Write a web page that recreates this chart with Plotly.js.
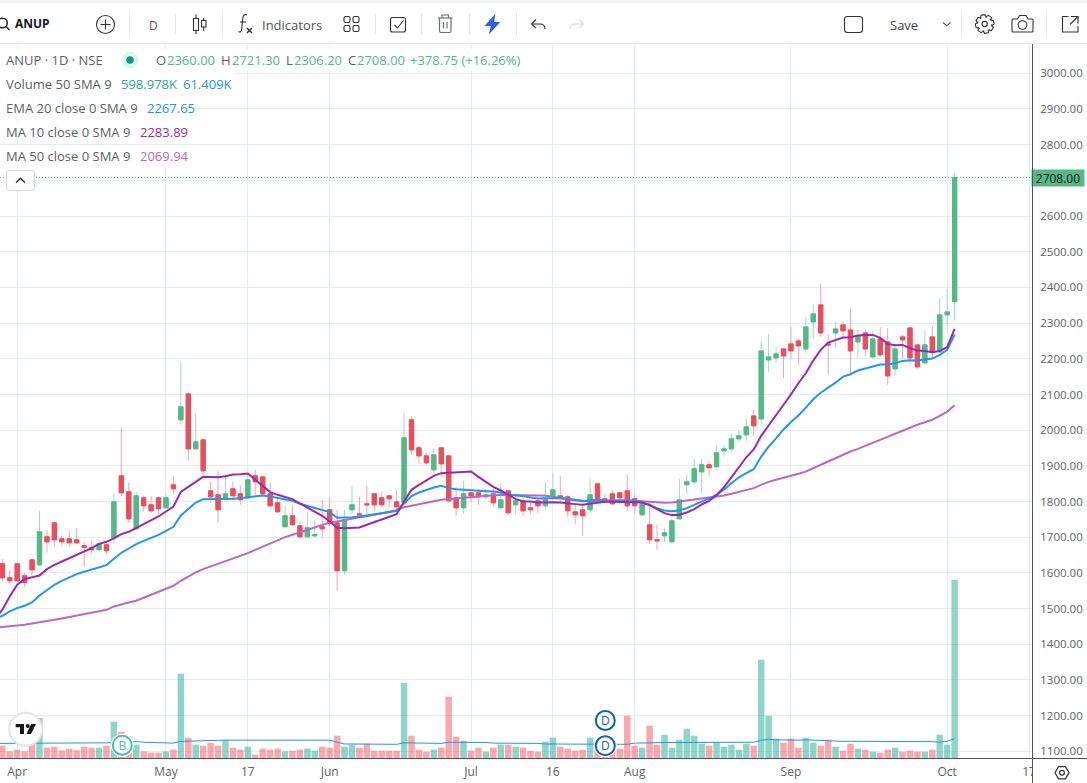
<!DOCTYPE html>
<html>
<head>
<meta charset="utf-8">
<script src="https://cdn.plot.ly/plotly-3.0.1.min.js"></script>
<style>
html,body{margin:0;padding:0;background:#fff;overflow:hidden}
#wrap{position:relative;width:1087px;height:783px}
#chart{position:absolute;left:0;top:0;width:1087px;height:783px}
#chrome{position:absolute;left:0;top:0;pointer-events:none}
</style>
</head>
<body>
<div id="wrap">
<div id="chart"></div>
<svg id="chrome" width="1087" height="783" viewBox="0 0 1087 783" font-family="Open Sans">
  <rect x="0" y="0" width="1087" height="3" fill="#f3f4f6"/>
  <line x1="0" y1="43.5" x2="1087" y2="43.5" stroke="#e4e7ee"/>
  <g stroke="#e4e7ee" stroke-width="1">
    <line x1="129.5" y1="13" x2="129.5" y2="35"/><line x1="175.5" y1="13" x2="175.5" y2="35"/>
    <line x1="222.5" y1="13" x2="222.5" y2="35"/><line x1="375.5" y1="13" x2="375.5" y2="35"/>
    <line x1="421.5" y1="13" x2="421.5" y2="35"/><line x1="469.5" y1="13" x2="469.5" y2="35"/>
    <line x1="516.5" y1="13" x2="516.5" y2="35"/><line x1="961.5" y1="13" x2="961.5" y2="35"/>
    <line x1="1046.5" y1="13" x2="1046.5" y2="35"/>
  </g>
  <!-- search -->
  <g fill="none" stroke="#222" stroke-width="1.5"><circle cx="2.5" cy="23" r="4.8"/><line x1="6" y1="26.5" x2="9.5" y2="30"/></g>
  <!-- plus -->
  <g fill="none" stroke="#333" stroke-width="1.1"><circle cx="105.5" cy="24.5" r="9"/><line x1="100.5" y1="24.5" x2="110.5" y2="24.5"/><line x1="105.5" y1="19.5" x2="105.5" y2="29.5"/></g>
  <!-- candles icon -->
  <g fill="none" stroke="#333" stroke-width="1.1">
    <rect x="193.5" y="18.5" width="5" height="12"/><line x1="196" y1="14.5" x2="196" y2="18.5"/><line x1="196" y1="30.5" x2="196" y2="34"/>
    <rect x="201.5" y="20.5" width="4.5" height="6.5"/><line x1="203.7" y1="18" x2="203.7" y2="20.5"/><line x1="203.7" y1="27" x2="203.7" y2="31"/>
  </g>
  <!-- fx -->
  <g fill="none" stroke="#333" stroke-width="1.1">
    <path d="M247 15 C244 13.5 243 16 242.7 19 L241.7 29 C241.4 32 240 32.5 238.5 31.5"/><line x1="240" y1="22" x2="246" y2="22"/>
    <g stroke-width="1.5"><line x1="247" y1="28" x2="252" y2="33"/><line x1="252" y1="28" x2="247" y2="33"/></g>
  </g>
  <!-- layout grid -->
  <g fill="none" stroke="#333" stroke-width="1.1">
    <rect x="344" y="16.5" width="6" height="6" rx="1.6"/><rect x="353" y="16.5" width="6" height="6" rx="1.6"/>
    <rect x="344" y="25.5" width="6" height="6" rx="1.6"/><rect x="353" y="25.5" width="6" height="6" rx="1.6"/>
  </g>
  <!-- checkbox -->
  <g fill="none" stroke="#333" stroke-width="1.1"><rect x="390.5" y="17.5" width="15" height="14.5" rx="2"/><path d="M394.5 25 L397.5 28 L403.5 20.5"/></g>
  <!-- trash -->
  <g fill="none" stroke="#6b6f78" stroke-width="1.2"><line x1="438" y1="18" x2="452.5" y2="18"/><path d="M442 18 V15 H448.5 V18"/><path d="M439.5 18 V31 Q439.5 32.5 441 32.5 H449.5 Q451 32.5 451 31 V18"/><line x1="443.5" y1="22" x2="443.5" y2="28.5"/><line x1="447" y1="22" x2="447" y2="28.5"/></g>
  <!-- bolt -->
  <defs><linearGradient id="bolt" x1="0" y1="0" x2="0" y2="1"><stop offset="0" stop-color="#1e6ff0"/><stop offset="1" stop-color="#3c4ff5"/></linearGradient></defs>
  <path d="M495.5 13.5 L484.5 26 L490.8 26 L488.8 34.5 L500.3 22 L494 22 Z" fill="url(#bolt)"/>
  <!-- undo / redo -->
  <g fill="none" stroke="#333" stroke-width="1.1"><path d="M536 19.5 L531.5 24 L536 28"/><path d="M532 24 H540 C543.5 24 545 26.5 545 29"/></g>
  <g fill="none" stroke="#d8dae0" stroke-width="1.1"><path d="M579 19.5 L583.5 24 L579 28"/><path d="M583 24 H575 C571.5 24 570 26.5 570 29"/></g>
  <!-- rect -->
  <rect x="844.5" y="16.5" width="18" height="16" rx="3" fill="none" stroke="#333" stroke-width="1.1"/>
  <path d="M943 22.5 L946.8 25.8 L950.5 22.5" fill="none" stroke="#555" stroke-width="1.1"/>
  <!-- gear -->
  <g fill="none" stroke="#333" stroke-width="1.1"><path id="gear"/><circle cx="984.7" cy="24" r="2.6"/></g>
  <!-- camera -->
  <g fill="none" stroke="#333" stroke-width="1.1"><path d="M1013 19 H1017.5 L1019.5 15.5 H1026 L1028 19 H1032 Q1033 19 1033 20 V31 Q1033 32 1032 32 H1013 Q1012 32 1012 31 V20 Q1012 19 1013 19 Z"/><circle cx="1022.5" cy="25" r="4.3"/></g>
  <!-- popout -->
  <g fill="none" stroke="#333" stroke-width="1.1"><path d="M1068.5 16.5 H1062.5 V32 H1078 V26"/><path d="M1071 16.5 H1078 V23.5"/><line x1="1078" y1="16.5" x2="1070" y2="24.5"/></g>
  <!-- legend status -->
  <circle cx="130" cy="60" r="8.5" fill="#dff3ef"/><circle cx="130" cy="60" r="3.7" fill="#089981"/>
  <!-- collapse -->
  <rect x="6.5" y="170.5" width="28" height="20" rx="3" fill="#fff" stroke="#d6d8e0"/>
  <path d="M16 182.5 L20.5 178.5 L25 182.5" fill="none" stroke="#222" stroke-width="1.4"/>
  <!-- axes frame -->
  <rect x="1032.5" y="759" width="55" height="24" fill="#fff"/>
  <line x1="1032.5" y1="44" x2="1032.5" y2="783" stroke="#50535e"/>
  <line x1="0" y1="758.5" x2="1087" y2="758.5" stroke="#50535e"/>
  <g fill="none" stroke="#333" stroke-width="1.2"><path d="M1055 772.7 L1058.5 766.6 H1065.5 L1069 772.7 L1065.5 778.8 H1058.5 Z"/><circle cx="1062" cy="772.7" r="2.4"/></g>
  <!-- logo -->
  <circle cx="25.7" cy="729.3" r="16.5" fill="#fff" stroke="#e3e5ec" stroke-width="2"/>
  <g fill="#131722"><path d="M15.7 724 H24 V734 H20 V727.3 H15.7 Z"/><circle cx="27.7" cy="726" r="2"/><path d="M31 724 H36 L31 734 H26.5 Z"/></g>
  <!-- events -->
  <g font-size="12" text-anchor="middle">
    <circle cx="122.3" cy="745.3" r="11.5" fill="#fff"/><circle cx="122.3" cy="745.3" r="9.5" fill="#fff" stroke="#45bdbd" stroke-width="2"/>
    <text x="122.3" y="749.5" fill="#45bdbd">B</text>
    <circle cx="605.3" cy="720.5" r="11.5" fill="#fff"/><circle cx="605.3" cy="720.5" r="9.5" fill="#fff" stroke="#0c5fbe" stroke-width="2"/>
    <text x="605.3" y="724.7" fill="#0c5fbe">D</text>
    <circle cx="605.3" cy="745.7" r="11.5" fill="#fff"/><circle cx="605.3" cy="745.7" r="9.5" fill="#fff" stroke="#0c5fbe" stroke-width="2"/>
    <text x="605.3" y="749.9" fill="#0c5fbe">D</text>
  </g>
</svg>
</div>
<script>
// ----- data (bar index 0 .. 128) -----
var opens = [
1625.5,1586.3,1625.5,1591.9,1636.7,1622.7,1701.1,1740.3,1695.5,1695.5,
1692.7,1675.9,1671.2,1664.7,1678.7,1698.3,1872,1827.2,1723.5,1810.4,
1790.8,1810.4,1782.4,1846.8,2028.9,2101.7,1947.6,1972.8,1830,1818.8,
1810.4,1835.6,1821.6,1810.4,1872,1869.2,1821.6,1796.4,1729.2,1760,
1732,1701.1,1703.9,1729.2,1776.8,1740.3,1605.9,1776.8,1765.6,1793.6,
1821.6,1810.4,1816,1799.2,1796.4,2028.9,1950.5,1928,1888.8,1950.5,
1928,1810.4,1782.4,1824.4,1824.4,1813.2,1821.6,1782.4,1830,1790.8,
1802,1782.4,1802,1788,1816,1816,1813.2,1771.2,1776.8,1776.8,
1849.6,1807.6,1821.6,1824.4,1830,1807.6,1762.8,1734.8,1692.8,1704,
1687.2,1751.6,1846.8,1855.2,1883.2,1902.9,1897.3,1942.1,1947.7,1975.7,
1986.8,2040,2031.6,2196.9,2202.5,2227.7,2241.7,2250.1,2227.7,2303.3,
2351,2241.7,2272.5,2294.9,2280.9,2247.3,2272.5,2205.3,2255.7,2247.3,
2171.7,2261.3,2286.5,2238.9,2188.5,2261.3,2219.3,2323,2360];
var highs = [
1639.5,1608.7,1630,1599.3,1640,1773.9,1720.7,1741,1703.9,1717.9,
1726.3,1687.1,1692.7,1692.7,1690,1824.4,2009.3,1852.4,1827.2,1816,
1816,1812,1821.6,1872,2188.5,2102,2048.5,1973,1855.2,1886,
1877.6,1855.2,1844,1880.4,1888.8,1872,1855.2,1813,1790.8,1790.8,
1743.2,1771.2,1748.8,1804.8,1810.4,1776.8,1776.8,1844,1813.2,1844,
1822,1827.2,1816,1830,2048.5,2037.3,1956,1936.4,1950.5,1950.5,
1928,1841.2,1858,1824.4,1835.6,1835.6,1835.6,1849.6,1830,1821.6,
1810.4,1802,1810.4,1855.2,1880.4,1872,1818.8,1793.6,1790.8,1863.6,
1849.6,1821.6,1832.8,1824.4,1874.8,1821.6,1804.8,1802,1734.8,1726.4,
1751.6,1863.6,1874.8,1919.7,1919.7,1914.1,1956.1,1958.9,1989.7,2000,
2031.6,2057,2250,2269.7,2233.3,2228,2289.3,2255.7,2317.3,2351,
2409.8,2269.7,2303.3,2303.3,2339.8,2280.9,2280.9,2275.3,2289.3,2286.5,
2241.7,2266.9,2286.5,2239,2280.9,2292.1,2370.6,2395.8,2721.3];
var lows = [
1576,1570.4,1575,1559.2,1591.9,1620,1656.3,1673.1,1675.9,1673.1,
1681.5,1617.1,1654.4,1664,1653.5,1682.4,1816,1740.3,1722,1771.2,
1768.4,1762.8,1782,1821.6,2014.9,1914,1944.8,1874.8,1796.4,1740.3,
1804.8,1802,1790.8,1810,1818.8,1816,1782.4,1768.4,1729,1732,
1695.5,1701,1701.1,1698.3,1729.2,1549.9,1594.7,1765.6,1754.4,1762.8,
1774,1782.4,1782.4,1774,1796,1930.8,1905.6,1902.8,1877.6,1869.2,
1796.4,1760,1765.6,1799.2,1790.8,1804.8,1785.2,1782,1762.8,1765.6,
1760,1765.6,1768.4,1779.6,1810.4,1802,1757.2,1737.6,1704,1768.4,
1799.2,1793.6,1790.8,1790.8,1774,1765.6,1762,1681.6,1664.8,1687.2,
1681.6,1751,1821.6,1849.6,1821.6,1872,1897,1925.3,1942.1,1967.3,
1968,1984,2014.8,2163.3,2188.5,2146.5,2199.7,2182.9,2216.5,2255.7,
2261.3,2154.9,2230.5,2261.3,2152.1,2202.5,2208.1,2202.5,2205.3,2126.9,
2152.1,2199.7,2185.7,2171.7,2188,2202.5,2218,2289.3,2306.2];
var closes = [
1586.3,1577.9,1577.9,1573.2,1608.7,1715.1,1687,1692.7,1687,1684.3,
1684.3,1671.2,1664.7,1681.5,1661.9,1799.2,1824.4,1751.5,1816,1788,
1773.9,1779.6,1810.4,1835.6,2065.3,1947.6,1967.2,1886,1813.2,1776.8,
1821.6,1816,1804.8,1860.8,1855.2,1821.6,1788,1771.2,1760,1734.8,
1701.1,1726.3,1706.7,1723.6,1740.3,1605.9,1748.8,1790.8,1762.8,1790.8,
1790.8,1790.8,1807.6,1785.2,1978.5,1944.8,1928,1908.4,1930.8,1905.6,
1802,1782.4,1821.6,1816,1813.2,1818.8,1796.4,1804.8,1768.4,1802,
1774,1776.8,1788,1807.6,1832.8,1810.4,1774,1762.8,1760,1818.8,
1807.6,1799.2,1793.6,1810.4,1788,1788,1793.6,1692.8,1690,1712.4,
1746,1804.8,1855.2,1891.7,1902.9,1894.5,1936.5,1947.7,1975.7,1984,
2009.2,2012,2222.1,2205.3,2213.7,2208.1,2222.1,2236.1,2289.3,2325.8,
2272.5,2238.9,2283.7,2278.1,2222.1,2264.1,2227.7,2255.7,2210.9,2152.1,
2227.7,2252.9,2202.5,2177.3,2238.9,2219.3,2323,2331.4,2708];
var volumesK = [
41.4,22.4,28,22.4,47,134.4,34.7,38,25.8,31.4,
25.8,38,34.7,34.7,41.4,122,88.5,25,44.8,22.4,
17.9,17.9,22.4,28,283.3,68.3,44.8,41.4,51.5,41.4,
60.5,34.7,28,38,11.2,31.4,28,31.4,22.4,24.6,
28,31.4,24.6,38,34.7,75,38,44.8,34.7,48.2,
24.6,24.6,24.6,24.6,253,75,28,21.3,28,34.7,
206,71.7,58.2,24.6,34.7,21.3,34.7,44.8,44.8,38,
34.7,24.6,21.3,54.9,68.3,38,31.4,24.6,28,68.3,
28,15,22.4,31.4,142.2,41.4,34.7,108.6,44.8,78.4,
34.7,61.6,98.5,75,48.2,41.4,52.6,38,44.8,28,
48.2,41.4,330.3,142.2,64.9,51.5,64.9,34.7,68.3,51.5,
41.4,61.6,38,24.6,48.2,31.4,28,21.3,17.9,28,
34.7,21.3,24.6,21.3,21.3,28,78.4,44.8,598.978];
// Indicator lines start one bar earlier (index -1), running off the left edge.
var volumeSmaK = [49,
49,50,50,50,50,50,50,50,51,51,
51,51,51,51,51,52,53,53,55,53,
52,52,51,50,56,57,58,58,59,59,
60,60,60,60,60,60,60,60,60,60,
60,60,60,60,60,53,47,47,47,47,
46,46,46,46,51,51,50,50,49,49,
53,53,53,53,52,52,50,50,50,50,
50,50,49,47,47,46,46,45,45,45,
45,45,45,46,46,50,51,52,52,52,
52,52,53,53,53,53,53,53,53,53,
53,53,59.4,62.7,61,60,60,60,61,60,
57,57,56,56,56,56,56,56,56,56,
56,56,56,56,56,55,53,56,65];
var ema20 = [1471,
1479.8,1492,1501.3,1507.9,1517.2,1536.8,1552.7,1566.7,1577.9,1588.2,
1596.6,1603.1,1608.7,1615.2,1621.8,1639.5,1656.3,1668.4,1680.6,1689.9,
1697.4,1706.7,1717.9,1729.1,1760.9,1778.6,1797.3,1806.6,1806.6,1806.6,
1806.6,1807.6,1809.4,1812.2,1816,1816.9,1814.1,1810.4,1806.7,1802,
1793.6,1788,1783.3,1775.8,1770.2,1754.4,1754.4,1756.2,1758.1,1760.9,
1762.8,1766.5,1770.2,1774,1795.4,1815.1,1825.3,1832.8,1839.3,1844,
1837.5,1834.7,1832.8,1831.9,1831,1829.1,1828.1,1825.3,1819.7,1817.9,
1815.1,1811.3,1808.5,1809.5,1810.4,1809.5,1806.7,1803,1801.1,1803,
1804.8,1803,1803,1803,1803,1803,1797.4,1790.8,1781.5,1774.9,
1773.1,1774.9,1781.5,1789.9,1800.2,1808.6,1818.8,1832.8,1851,1868,
1879.5,1890.7,1926,1954,1977,2002,2023,2041,2063,2086.7,
2105,2119,2133,2150,2156.8,2167,2172.6,2180.1,2183.8,2183.8,
2187.6,2194.1,2196,2195,2196.9,2200.6,2210.9,2224.9,2267.65];
var ma10 = [1470,
1496.6,1534,1566.7,1582.5,1588,1592.8,1610.6,1622.7,1632,1641.4,
1651.6,1661.9,1669.4,1681.5,1687.1,1696.5,1708.6,1715.1,1725.4,1735.7,
1746,1758.1,1772.1,1786.1,1827.2,1842.1,1855.2,1869.2,1869.2,1868.2,
1871,1875.7,1876.7,1878.5,1860.8,1844,1826.3,1818.8,1812.3,1806.7,
1794.5,1783.3,1772.1,1760,1744.1,1726.4,1725.4,1726.4,1727.3,1734.8,
1742.2,1748.8,1757.2,1764.6,1800.1,1832.8,1846.8,1859,1872,1879.5,
1880.4,1880.4,1882.3,1884.2,1869.2,1854.3,1841.2,1830.9,1818.8,1806.7,
1801,1800.2,1797,1798.3,1798.3,1797.4,1794.5,1792.7,1790.8,1793.6,
1798.3,1799.2,1799.2,1799.2,1797.4,1799.2,1797.4,1789.9,1778.7,1767.5,
1761.9,1762.8,1769.3,1778.7,1791.7,1802,1817.9,1840.3,1867.4,1896,
1924,1946,1984,2013,2041,2072,2100,2131.5,2159.5,2195,
2225,2245.5,2252.9,2259.5,2260.4,2265.1,2266.9,2266.9,2258.5,2241.7,
2238,2238.9,2229.6,2223,2222.1,2218.4,2222.1,2232.4,2283.89];
var ma50 = [1446.5,
1448.1,1450,1451.8,1454.6,1458.4,1461.2,1464,1468.6,1472.4,1476.1,
1479.8,1483.6,1487.3,1492,1496.6,1506,1512.5,1517.2,1521.9,1529.3,
1538.7,1547.1,1555.5,1563.9,1577.9,1590,1601.2,1610.6,1618,1624.6,
1632,1638.6,1646,1655.4,1664.7,1674,1683.4,1691.8,1700.2,1706.8,
1713.3,1719.8,1727.3,1734.8,1741.3,1744.1,1748.8,1752.5,1756.2,1759,
1762.8,1767.4,1771.2,1775.8,1784.2,1788.9,1793.6,1797.3,1801,1804.8,
1806.7,1809.4,1811.3,1813.2,1816,1816.9,1817.9,1818.8,1818.8,1817.9,
1817.9,1817.9,1816.9,1816,1814.2,1810.4,1807.6,1804.8,1802,1800.2,
1800.2,1801.1,1803,1803,1802,1802,1801.1,1799.2,1797.4,1796.4,
1797.4,1800.2,1802,1804.8,1808.6,1811.4,1815.1,1817,1821.6,1826.3,
1831.9,1837.5,1846.8,1855.2,1860.8,1866.4,1870.2,1877.6,1884.2,1893.5,
1902.8,1913.1,1923.4,1931.8,1940.2,1947.7,1956.1,1965.4,1974.7,1982.2,
1989.7,1999,2008,2015,2022,2029,2040,2052,2069.94];
var tickPositions = [2,22,33,44,63,74,85,106,127,138];
var tickLabels = ['Apr','May','17','Jun','Jul','16','Aug','Sep','Oct','17'];
var priceTicks = [1100,1200,1300,1400,1500,1600,1700,1800,1900,2000,2100,2200,2300,2400,2500,2600,2700,2800,2900,3000];
var priceTickHiddenByTag = 2700;

// ----- styles -----
var GREEN='#53b987', RED='#eb4d5c', GREEN_W='#a3d9c0', RED_W='#f5a3ae', GRID='#e3edf3', TXT='#5d5f66', FONT='"Open Sans", sans-serif';
var PW=1032, PH=714.3;

var idx = closes.map(function(_,i){return i;});
var lineIdx = ma10.map(function(_,i){return i-1;});
var bodyHigh = closes.map(function(c,i){return Math.max(c,opens[i]);});
var bodyLow  = closes.map(function(c,i){return Math.min(c,opens[i]);});
var volColors = closes.map(function(c,i){return c>=opens[i]?'rgba(34,171,148,0.5)':'rgba(247,82,95,0.5)';});

var traces = [
 {type:'bar',x:idx,y:volumesK,yaxis:'y2',width:0.87,marker:{color:volColors,line:{width:0}},hoverinfo:'skip',name:'Volume'},
 {type:'scatter',mode:'lines',x:lineIdx,y:volumeSmaK,yaxis:'y2',line:{color:'#2196f3',width:1},hoverinfo:'skip',name:'Volume SMA'},
 {type:'candlestick',x:idx,open:opens,high:highs,low:lows,close:closes,whiskerwidth:0,
  increasing:{line:{color:GREEN_W,width:1},fillcolor:'rgba(0,0,0,0)'},
  decreasing:{line:{color:RED_W,width:1},fillcolor:'rgba(0,0,0,0)'},hoverinfo:'skip',name:'wicks'},
 {type:'candlestick',x:idx,open:opens,high:bodyHigh,low:bodyLow,close:closes,whiskerwidth:0,
  increasing:{line:{color:GREEN,width:1},fillcolor:GREEN},
  decreasing:{line:{color:RED,width:1},fillcolor:RED},hoverinfo:'skip',name:'ANUP'},
 {type:'scatter',mode:'lines',x:lineIdx,y:ma50,line:{color:'#ba68c8',width:2},hoverinfo:'skip',name:'MA 50'},
 {type:'scatter',mode:'lines',x:lineIdx,y:ema20,line:{color:'#2196f3',width:2},hoverinfo:'skip',name:'EMA 20'},
 {type:'scatter',mode:'lines',x:lineIdx,y:ma10,line:{color:'#9c27b0',width:2},hoverinfo:'skip',name:'MA 10'}
];

function ax(px){return px/PW;}
function ay(py){return (758.3-py)/PH;}
function note(px,py,text,color,size,anchor,extra){
  var a={xref:'paper',yref:'paper',x:ax(px),y:ay(py),text:text,showarrow:false,xanchor:anchor||'left',yanchor:'middle',
    borderpad:0,borderwidth:0,font:{family:FONT,size:size||12,color:color||TXT}};
  if(extra){for(var k in extra)a[k]=extra[k];}
  return a;
}
function backing(x1,y0,y1){
  return {type:'rect',xref:'paper',yref:'paper',layer:'above',x0:0,x1:ax(x1),y0:ay(y1),y1:ay(y0),fillcolor:'#fff',line:{width:0}};
}
var LEGEND_Y=[60,84,108,132,156];
var LF=13;
var C=closes[closes.length-1];
var annotations=[
  note(15,23,'<b>ANUP</b>','#131722',12),
  note(153,25,'D','#555',12,'center'),
  note(262,25,'Indicators','#555',13),
  note(904,25,'Save','#444',13,'center'),
  note(6,LEGEND_Y[0],'ANUP · 1D · NSE',TXT,LF),
  note(156,LEGEND_Y[0],'O',TXT,LF),note(167,LEGEND_Y[0],'2360.00',GREEN,LF),
  note(221,LEGEND_Y[0],'H',TXT,LF),note(231.5,LEGEND_Y[0],'2721.30',GREEN,LF),
  note(286,LEGEND_Y[0],'L',TXT,LF),note(294,LEGEND_Y[0],'2306.20',GREEN,LF),
  note(348,LEGEND_Y[0],'C',TXT,LF),note(356.5,LEGEND_Y[0],'2708.00',GREEN,LF),
  note(410,LEGEND_Y[0],'+378.75 (+16.26%)',GREEN,LF),
  note(6,LEGEND_Y[1],'Volume 50 SMA 9',TXT,LF),note(120.5,LEGEND_Y[1],'598.978K','#22ab94',LF),note(182.5,LEGEND_Y[1],'61.409K','#2196f3',LF),
  note(6,LEGEND_Y[2],'EMA 20 close 0 SMA 9',TXT,LF),note(147,LEGEND_Y[2],'2267.65','#2196f3',LF),
  note(6,LEGEND_Y[3],'MA 10 close 0 SMA 9',TXT,LF),note(139.5,LEGEND_Y[3],'2283.89','#9c27b0',LF),
  note(6,LEGEND_Y[4],'MA 50 close 0 SMA 9',TXT,LF),note(139.5,LEGEND_Y[4],'2069.94','#ba68c8',LF),
  {xref:'paper',yref:'y',x:ax(1058),y:C,text:'2708.00',showarrow:false,xanchor:'center',yanchor:'middle',
   width:52,height:16,bgcolor:GREEN,borderpad:0,font:{family:FONT,size:12,color:'#131722'}}
];
var shapes=[
  backing(525,49,71),backing(235,73,95),backing(198,97,119),backing(190,121,143),backing(190,145,167),
  {type:'line',xref:'paper',yref:'y',layer:'above',x0:0,x1:1,y0:C,y1:C,line:{color:GREEN,width:1,dash:'1px,2px'}}
];

var layout={
  width:1087,height:783,paper_bgcolor:'#fff',plot_bgcolor:'#fff',showlegend:false,
  margin:{l:0,r:55,t:44,b:24.7,pad:0},
  boxmode:'overlay',boxgap:0.42,boxgroupgap:0,barmode:'overlay',hovermode:false,dragmode:false,
  xaxis:{type:'linear',range:[-0.309,138.4],tickmode:'array',tickvals:tickPositions,ticktext:tickLabels,
    showgrid:true,gridcolor:GRID,gridwidth:1,zeroline:false,showline:false,ticks:'outside',ticklen:3,tickcolor:'rgba(0,0,0,0)',
    tickfont:{family:FONT,size:12,color:TXT},rangeslider:{visible:false},fixedrange:true},
  yaxis:{side:'right',range:[1081.3,3082.1],tickmode:'array',tickvals:priceTicks,
    ticktext:priceTicks.map(function(v){return v===priceTickHiddenByTag?'':v.toFixed(2);}),
    showgrid:true,gridcolor:GRID,gridwidth:1,zeroline:false,showline:false,ticks:'outside',ticklen:5,tickcolor:'rgba(0,0,0,0)',
    tickfont:{family:FONT,size:11.5,color:TXT},fixedrange:true},
  yaxis2:{overlaying:'y',side:'left',range:[0,2399.4],visible:false,fixedrange:true},
  annotations:annotations,shapes:shapes
};
Plotly.newPlot('chart',traces,layout,{displayModeBar:false,staticPlot:true});

// gear outline for the toolbar icon
(function(){
  var cx=984.7,cy=24,d='',n=8;
  for(var i=0;i<n;i++){
    var a=i*2*Math.PI/n-Math.PI/n/2;
    var pts=[[9.4,a-0.2],[9.4,a+0.2],[7.2,a+0.42],[7.2,a+Math.PI*2/n-0.42]];
    pts.forEach(function(p,j){
      d+=((i===0&&j===0)?'M':'L')+(cx+p[0]*Math.cos(p[1])).toFixed(2)+' '+(cy+p[0]*Math.sin(p[1])).toFixed(2)+' ';
    });
  }
  document.getElementById('gear').setAttribute('d',d+'Z');
})();
</script>
</body>
</html>
